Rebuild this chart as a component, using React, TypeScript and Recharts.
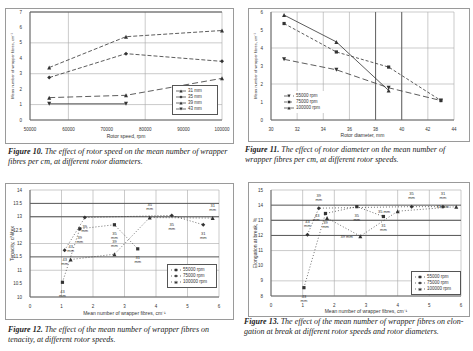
import React from 'react';
import {
  LineChart, Line, ScatterChart, Scatter, XAxis, YAxis, ZAxis, CartesianGrid,
  ReferenceLine, Legend, LabelList,
} from 'recharts';

// Figure 10: wrapper fibres vs rotor speed, one line per rotor diameter
const fig10Speed = [55000, 75000, 100000];
const fig10D31 = [3.4, 5.4, 5.8];
const fig10D35 = [2.75, 4.3, 3.8];
const fig10D39 = [1.45, 1.6, 2.7];
const fig10D43 = [1.05, 1.05, null];
const fig10XTicks = [50000, 60000, 70000, 80000, 90000, 100000];
const fig10YTicks = [0, 1, 2, 3, 4, 5, 6, 7];

// Figure 11: wrapper fibres vs rotor diameter, one line per rotor speed
const fig11Dia = [31, 35, 39, 43];
const fig11Rpm100 = [5.83, 4.34, 1.64, null];
const fig11Rpm75 = [5.36, 3.78, 2.94, 1.08];
const fig11Rpm55 = [3.37, 2.79, 1.79, 1.08];
const fig11XTicks = [30, 32, 34, 36, 38, 40, 42, 44];
const fig11YTicks = [0, 1, 2, 3, 4, 5, 6];

// Figure 12: tenacity vs wrapper fibres
const fig12X55 = [1.03, 1.58, 2.68, 3.42];
const fig12Y55 = [10.55, 12.55, 12.7, 11.8];
const fig12X75 = [1.1, 1.74, 4.5, 5.5];
const fig12Y75 = [11.75, 12.97, 13.05, 12.7];
const fig12X100 = [1.29, 2.68, 3.8, 5.8];
const fig12Y100 = [11.4, 11.6, 12.97, 12.95];
const fig12YTicks = [10, 10.5, 11, 11.5, 12, 12.5, 13, 13.5, 14];

// Figure 13: elongation vs wrapper fibres
const fig13X55 = [1.04, 1.72, 2.71, 3.55];
const fig13Y55 = [8.55, 13.45, 13.9, 13.25];
const fig13X75 = [1.15, 1.51, 4.44, 5.43];
const fig13Y75 = [12.05, 13.8, 13.9, 13.9];
const fig13X100 = [1.77, 2.82, 4.0, 5.85];
const fig13Y100 = [13.15, 11.95, 13.6, 13.9];
const fig13YTicks = [8, 9, 10, 11, 12, 13, 14, 15];

const diaTags = ['43 mm', '39 mm', '35 mm', '31 mm'];
const fibreTicks = [0, 1, 2, 3, 4, 5, 6];

const fig10Rows = fig10Speed.map((s, i) => ({ speed: s, d31: fig10D31[i], d35: fig10D35[i], d39: fig10D39[i], d43: fig10D43[i] }));
const fig11Rows = fig11Dia.map((d, i) => ({ dia: d, r100: fig11Rpm100[i], r75: fig11Rpm75[i], r55: fig11Rpm55[i] }));
const pts = (xs: number[], ys: number[]) => xs.map((x, i) => ({ x, y: ys[i], tag: diaTags[i] }));

const INK = '#333';
const GRID = '#a8a8a8';
const tickStyle = { fontSize: 4.5, fill: INK, fontFamily: 'Liberation Sans' };
const axisLabel = { fontSize: 5, fill: INK, fontFamily: 'Liberation Sans' };
const tagStyle = { fontSize: 4, fill: INK, fontFamily: 'Liberation Sans' };

// rotated y-axis title, centred on the plot height
const yTitle = (text: string, x: number, size = 5) => (props: any) => {
  const vb = props.viewBox || { x: 0, y: 0, height: 0 };
  const cy = vb.y + vb.height / 2;
  const cx = vb.x + x;
  return (
    <text x={cx} y={cy} transform={`rotate(-90 ${cx} ${cy})`} textAnchor="middle" dominantBaseline="central"
      fontSize={size} fill={INK} fontFamily="Liberation Sans">{text}</text>
  );
};

type Shape = 'tri' | 'triDown' | 'diamond' | 'square' | 'circle';

function Mark({ cx, cy, shape, r = 2 }: { cx: number; cy: number; shape: Shape; r?: number }) {
  if (cx == null || cy == null || isNaN(cx) || isNaN(cy)) return <g />;
  if (shape === 'tri') return <polygon points={`${cx},${cy - r} ${cx - r},${cy + r} ${cx + r},${cy + r}`} fill={INK} />;
  if (shape === 'triDown') return <polygon points={`${cx},${cy + r} ${cx - r},${cy - r} ${cx + r},${cy - r}`} fill={INK} />;
  if (shape === 'diamond') return <polygon points={`${cx},${cy - r} ${cx + r},${cy} ${cx},${cy + r} ${cx - r},${cy}`} fill={INK} />;
  if (shape === 'square') return <rect x={cx - r * 0.8} y={cy - r * 0.8} width={r * 1.6} height={r * 1.6} fill={INK} />;
  return <circle cx={cx} cy={cy} r={r * 0.8} fill={INK} />;
}

const dotOf = (shape: Shape) => (p: any) => <Mark key={p.key ?? p.index} cx={p.cx} cy={p.cy} shape={shape} />;

function LegendBox({ items, border = true }: { items: { label: string; shape: Shape; dash?: string }[]; border?: boolean }) {
  return (
    <div style={{ border: border ? '0.6px solid #555' : 'none', background: '#fff', padding: '2px 3px', fontFamily: 'Liberation Sans', fontSize: 4.5, color: INK, lineHeight: '6px', whiteSpace: 'nowrap' }}>
      {items.map((it) => (
        <div key={it.label} style={{ display: 'flex', alignItems: 'center', gap: 2 }}>
          <svg width={10} height={6}>
            <line x1={0} y1={3} x2={10} y2={3} stroke={INK} strokeWidth={0.7} strokeDasharray={it.dash} />
            <Mark cx={5} cy={3} shape={it.shape} r={1.6} />
          </svg>
          <span>{it.label}</span>
        </div>
      ))}
    </div>
  );
}

function Box({ left, top, width, height, children }: any) {
  return (
    <div style={{ position: 'absolute', left, top, width, height, border: '1px solid #9a9a9a', background: '#fff' }}>
      {children}
    </div>
  );
}

function Caption({ left, top, num, lines }: { left: number; top: number; num: string; lines: string[] }) {
  return (
    <div style={{ position: 'absolute', left, top, fontFamily: 'Liberation Serif', fontStyle: 'italic', fontSize: 8, lineHeight: '9.5px', color: '#222', whiteSpace: 'nowrap' }}>
      <b>{`Figure ${num}.`}</b>{lines[0]}
      <br />
      {lines[1]}
    </div>
  );
}

const dotted = { stroke: INK, strokeWidth: 0.7, strokeDasharray: '1 2' };
const speedLegend = [
  { label: '55000 rpm', shape: 'square' as Shape, dash: '1 2' },
  { label: '75000 rpm', shape: 'diamond' as Shape, dash: '1 2' },
  { label: '100000 rpm', shape: 'tri' as Shape, dash: '1 2' },
];

export default function App() {
  return (
    <div style={{ position: 'absolute', left: 0, top: 0, width: 473, height: 351, background: '#fff', overflow: 'hidden' }}>
      <Box left={5} top={8} width={227} height={134}>
        <LineChart width={225} height={132} data={fig10Rows} margin={{ top: 3, right: 9, bottom: 0, left: 0 }}>
          <CartesianGrid stroke={GRID} strokeWidth={0.6} />
          <ReferenceLine y={7} stroke="#555" strokeWidth={1.2} />
          <XAxis type="number" dataKey="speed" domain={[50000, 100000]} ticks={fig10XTicks} height={21} tick={tickStyle} tickLine={false} axisLine={{ stroke: '#666' }}
            label={{ value: 'Rotor speed, rpm', position: 'insideBottom', offset: 3, ...axisLabel }} />
          <YAxis domain={[0, 7]} ticks={fig10YTicks} width={24} tick={tickStyle} tickLine={false} axisLine={{ stroke: '#666' }}
            label={yTitle('Mean number of wrapper fibres, cm⁻¹', 6, 4)} />
          <Line dataKey="d31" stroke={INK} strokeWidth={0.8} strokeDasharray="4 2" dot={dotOf('tri')} isAnimationActive={false} />
          <Line dataKey="d35" stroke={INK} strokeWidth={0.8} strokeDasharray="4 2" dot={dotOf('diamond')} isAnimationActive={false} />
          <Line dataKey="d39" stroke={INK} strokeWidth={0.8} strokeDasharray="6 3" dot={dotOf('tri')} isAnimationActive={false} />
          <Line dataKey="d43" stroke={INK} strokeWidth={0.8} dot={dotOf('triDown')} isAnimationActive={false} />
          <Legend layout="vertical" align="center" verticalAlign="middle" wrapperStyle={{ left: 166, top: 76, width: 46 }}
            content={() => <LegendBox items={[{ label: '31 mm', shape: 'tri' }, { label: '35 mm', shape: 'diamond' }, { label: '39 mm', shape: 'tri' }, { label: '43 mm', shape: 'triDown' }]} />} />
        </LineChart>
      </Box>
      <Caption left={8} top={147} num="10" lines={[' The effect of rotor speed on the mean number of wrapper', 'fibres per cm, at different rotor diameters.']} />

      <Box left={248} top={8} width={220} height={132}>
        <LineChart width={218} height={130} data={fig11Rows} margin={{ top: 3, right: 13, bottom: 0, left: 0 }}>
          <CartesianGrid stroke={GRID} strokeWidth={0.6} />
          <ReferenceLine x={38} stroke="#666" strokeWidth={1} />
          <ReferenceLine x={40} stroke="#666" strokeWidth={1} />
          <XAxis type="number" dataKey="dia" domain={[30, 44]} ticks={fig11XTicks} height={19} tick={tickStyle} tickLine={false} axisLine={{ stroke: '#666' }}
            label={{ value: 'Rotor diameter, mm', position: 'insideBottom', offset: 2, ...axisLabel }} />
          <YAxis domain={[0, 6]} ticks={fig11YTicks} width={22} tick={tickStyle} tickLine={false} axisLine={{ stroke: '#666' }}
            label={yTitle('Mean number of wrapper fibres, cm⁻¹', 6, 4)} />
          <Line dataKey="r100" stroke={INK} strokeWidth={0.8} dot={dotOf('tri')} isAnimationActive={false} />
          <Line dataKey="r75" stroke={INK} strokeWidth={0.8} strokeDasharray="3 2" dot={dotOf('square')} isAnimationActive={false} />
          <Line dataKey="r55" stroke={INK} strokeWidth={0.8} strokeDasharray="6 3" dot={dotOf('triDown')} isAnimationActive={false} />
          <Legend layout="vertical" align="center" verticalAlign="middle" wrapperStyle={{ left: 32, top: 82, width: 44 }}
            content={() => <LegendBox border={false} items={[{ label: '55000 rpm', shape: 'triDown', dash: '6 3' }, { label: '75000 rpm', shape: 'square', dash: '3 2' }, { label: '100000 rpm', shape: 'tri' }]} />} />
        </LineChart>
      </Box>
      <Caption left={245} top={145} num="11" lines={[' The effect of rotor diameter on the mean number of', 'wrapper fibres per cm, at different rotor speeds.']} />

      <Box left={5} top={183} width={227} height={135}>
        <ScatterChart width={225} height={133} margin={{ top: 6, right: 12, bottom: 0, left: 0 }}>
          <CartesianGrid stroke={GRID} strokeWidth={0.6} />
          <ReferenceLine y={13.5} stroke="#555" strokeWidth={1} />
          <ReferenceLine y={13} stroke="#555" strokeWidth={1} />
          <ReferenceLine y={11.5} stroke="#555" strokeWidth={1} />
          <XAxis type="number" dataKey="x" domain={[0, 6]} ticks={fibreTicks} height={20} tick={tickStyle} tickLine={false} axisLine={{ stroke: '#666' }}
            label={{ value: 'Mean number of wrapper fibres, cm⁻¹', position: 'insideBottom', offset: 2, ...axisLabel }} />
          <YAxis type="number" dataKey="y" domain={[10, 14]} ticks={fig12YTicks} width={24} tick={tickStyle} tickLine={false} axisLine={{ stroke: '#666' }}
            label={yTitle('Tenacity, cN/tex', 6)} />
          <ZAxis range={[10, 10]} />
          <Scatter data={pts(fig12X55, fig12Y55)} line={dotted} lineType="joint" shape={dotOf('square')} isAnimationActive={false}>
            <LabelList dataKey="tag" position="bottom" offset={3} style={tagStyle} />
          </Scatter>
          <Scatter data={pts(fig12X75, fig12Y75)} line={dotted} lineType="joint" shape={dotOf('diamond')} isAnimationActive={false}>
            <LabelList dataKey="tag" position="bottom" offset={3} style={tagStyle} />
          </Scatter>
          <Scatter data={pts(fig12X100, fig12Y100)} line={dotted} lineType="joint" shape={dotOf('tri')} isAnimationActive={false}>
            <LabelList dataKey="tag" position="top" offset={3} style={tagStyle} />
          </Scatter>
          <Legend layout="vertical" align="center" verticalAlign="middle" wrapperStyle={{ left: 161, top: 80, width: 50 }}
            content={() => <LegendBox items={speedLegend} />} />
        </ScatterChart>
      </Box>
      <Caption left={8} top={325} num="12" lines={[' The effect of the mean number of wrapper fibres on', 'tenacity, at different rotor speeds.']} />

      <Box left={248} top={182} width={220} height={133}>
        <ScatterChart width={218} height={131} margin={{ top: 7, right: 6, bottom: 0, left: 0 }}>
          <CartesianGrid stroke={GRID} strokeWidth={0.6} />
          <ReferenceLine y={14} stroke="#555" strokeWidth={1} />
          <ReferenceLine y={13} stroke="#555" strokeWidth={1} />
          <ReferenceLine y={12} stroke="#555" strokeWidth={1} />
          <XAxis type="number" dataKey="x" domain={[0, 6]} ticks={fibreTicks} height={18} tick={tickStyle} tickLine={false} axisLine={{ stroke: '#666' }}
            label={{ value: 'Mean number of wrapper fibres, cm⁻¹', position: 'insideBottom', offset: 1, ...axisLabel }} />
          <YAxis type="number" dataKey="y" domain={[8, 15]} ticks={fig13YTicks} width={22} tick={tickStyle} tickLine={false} axisLine={{ stroke: '#666' }}
            label={yTitle('Elongation at break, %', 6)} />
          <ZAxis range={[10, 10]} />
          <Scatter data={pts(fig13X55, fig13Y55)} line={dotted} lineType="joint" shape={dotOf('square')} isAnimationActive={false}>
            <LabelList dataKey="tag" position="bottom" offset={3} style={tagStyle} />
          </Scatter>
          <Scatter data={pts(fig13X75, fig13Y75)} line={dotted} lineType="joint" shape={dotOf('diamond')} isAnimationActive={false}>
            <LabelList dataKey="tag" position="top" offset={3} style={tagStyle} />
          </Scatter>
          <Scatter data={pts(fig13X100, fig13Y100)} line={dotted} lineType="joint" shape={dotOf('tri')} isAnimationActive={false}>
            <LabelList dataKey="tag" position="left" offset={3} style={tagStyle} />
          </Scatter>
          <Legend layout="vertical" align="center" verticalAlign="middle" wrapperStyle={{ left: 162, top: 88, width: 50 }}
            content={() => <LegendBox items={speedLegend} />} />
        </ScatterChart>
      </Box>
      <Caption left={244} top={317} num="13" lines={[' The effect of the mean number of wrapper fibres on elon-', 'gation at break at different rotor speeds and rotor diameters.']} />
    </div>
  );
}
